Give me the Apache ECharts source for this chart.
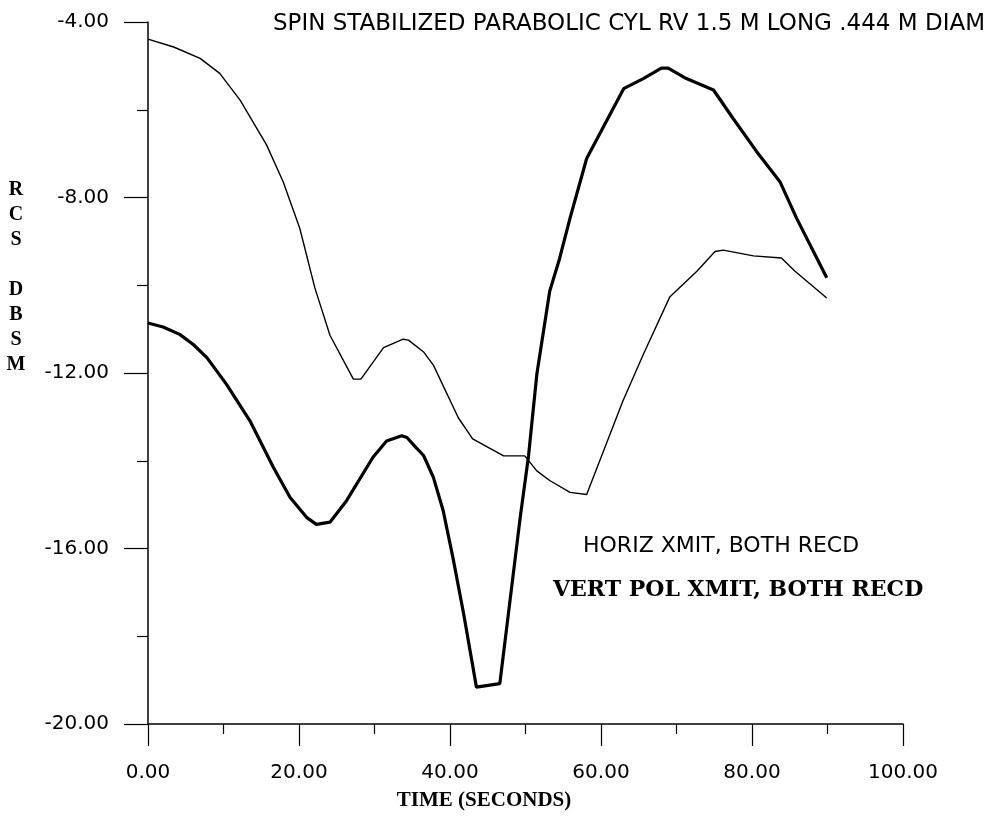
<!DOCTYPE html>
<html>
<head>
<meta charset="utf-8">
<script src="https://cdn.jsdelivr.net/npm/echarts@6/dist/echarts.min.js"></script>
<style>
html,body{margin:0;padding:0;background:#fff;}
#chart{width:990px;height:818px;}
</style>
</head>
<body>
<div id="chart"></div>
<script>
// Thin curve: HORIZ XMIT, BOTH RECD
var horizTime = [0, 3.4, 6.9, 9.5, 12.2, 15.7, 17.9, 20.1, 22.1, 24.1, 27.2, 28.2, 31.2, 33.8, 34.5, 36.5, 37.8, 41.1, 43.0, 47.1, 49.9, 51.5, 53.2, 55.9, 58.1, 62.9, 65.6, 69.1, 72.7, 75.1, 76.2, 80.2, 83.9, 85.7, 89.9];
var horizRcs  = [-4.39, -4.57, -4.83, -5.17, -5.78, -6.80, -7.64, -8.70, -10.06, -11.14, -12.14, -12.14, -11.42, -11.23, -11.25, -11.52, -11.82, -13.02, -13.50, -13.89, -13.89, -14.23, -14.45, -14.72, -14.77, -12.64, -11.58, -10.27, -9.68, -9.23, -9.20, -9.33, -9.38, -9.68, -10.29];

// Thick curve: VERT POL XMIT, BOTH RECD
var vertTime = [0, 2.0, 4.2, 6.0, 7.8, 10.4, 13.5, 16.6, 18.8, 21.0, 22.3, 24.1, 26.3, 29.8, 31.6, 33.6, 34.3, 35.5, 36.5, 37.8, 39.1, 40.4, 41.8, 43.5, 46.6, 49.3, 50.4, 51.5, 53.2, 54.5, 55.9, 58.1, 60.1, 63.0, 65.6, 68.0, 68.9, 71.3, 74.9, 77.5, 80.6, 83.7, 85.9, 89.9];
var vertRcs  = [-10.86, -10.95, -11.12, -11.35, -11.65, -12.26, -13.09, -14.15, -14.83, -15.29, -15.45, -15.40, -14.91, -13.92, -13.55, -13.43, -13.47, -13.70, -13.88, -14.38, -15.14, -16.22, -17.48, -19.16, -19.08, -15.29, -13.89, -12.03, -10.14, -9.40, -8.47, -7.11, -6.46, -5.52, -5.29, -5.05, -5.05, -5.29, -5.55, -6.20, -6.95, -7.64, -8.47, -9.83];

var titleText = 'SPIN STABILIZED PARABOLIC CYL RV 1.5 M LONG .444 M DIAM';
var legendHoriz = 'HORIZ XMIT, BOTH RECD';
var legendVert = 'VERT POL XMIT, BOTH RECD';
var xName = 'TIME (SECONDS)';
var yNameLetters = ['R', 'C', 'S', '', 'D', 'B', 'S', 'M'];

function pairs(xs, ys) { return xs.map(function (x, i) { return [x, ys[i]]; }); }

var chart = echarts.init(document.getElementById('chart'), null, {renderer: 'canvas'});
var sans = '"DejaVu Sans", "Liberation Sans", Arial, sans-serif';
var serif = '"Liberation Serif", "Times New Roman", serif';

chart.setOption({
  backgroundColor: '#ffffff',
  animation: false,
  grid: {left: 148, right: 87, top: 22, bottom: 94, containLabel: false},
  xAxis: {
    type: 'value', min: 0, max: 100, interval: 20,
    axisLine: {show: true, onZero: false, lineStyle: {color: '#000', width: 1.5}},
    axisTick: {show: true, inside: false, length: 22, lineStyle: {color: '#000', width: 1.2}},
    minorTick: {show: true, splitNumber: 2, length: 10, lineStyle: {color: '#000', width: 1.2}},
    splitLine: {show: false},
    axisLabel: {margin: 39, fontFamily: sans, fontSize: 20, color: '#000',
      formatter: function (v) { return v.toFixed(2); }}
  },
  yAxis: {
    type: 'value', min: -20, max: -4, interval: 4,
    axisLine: {show: true, onZero: false, lineStyle: {color: '#000', width: 1.5}},
    axisTick: {show: true, inside: false, length: 24, lineStyle: {color: '#000', width: 1.2}},
    minorTick: {show: true, splitNumber: 2, length: 11, lineStyle: {color: '#000', width: 1.2}},
    splitLine: {show: false},
    axisLabel: {margin: 39, fontFamily: sans, fontSize: 20, color: '#000',
      formatter: function (v) { return v.toFixed(2); }}
  },
  series: [
    {name: legendHoriz, type: 'line', data: pairs(horizTime, horizRcs), showSymbol: false,
     smooth: false, lineStyle: {color: '#000', width: 1.4}},
    {name: legendVert, type: 'line', data: pairs(vertTime, vertRcs), showSymbol: false,
     smooth: false, lineStyle: {color: '#000', width: 3.2}}
  ],
  graphic: [
    {type: 'text', x: 985, y: 24,
     style: {text: titleText, font: '23px ' + sans, fill: '#000', align: 'right', verticalAlign: 'middle'}},
    {type: 'text', x: 583, y: 546,
     style: {text: legendHoriz, font: '22px ' + sans, fill: '#000', align: 'left', verticalAlign: 'middle'}},
    {type: 'text', x: 553, y: 590,
     style: {text: legendVert, font: 'bold 22px "DejaVu Serif", serif', fill: '#000', align: 'left', verticalAlign: 'middle'}},
    {type: 'text', x: 484, y: 801,
     style: {text: xName, font: 'bold 21px ' + serif, fill: '#000', align: 'center', verticalAlign: 'middle'}},
    {type: 'text', x: 16, y: 277,
     style: {text: yNameLetters.join('\n'), font: 'bold 20px ' + serif, fill: '#000',
       align: 'center', verticalAlign: 'middle', lineHeight: 25}}
  ]
});
</script>
</body>
</html>
